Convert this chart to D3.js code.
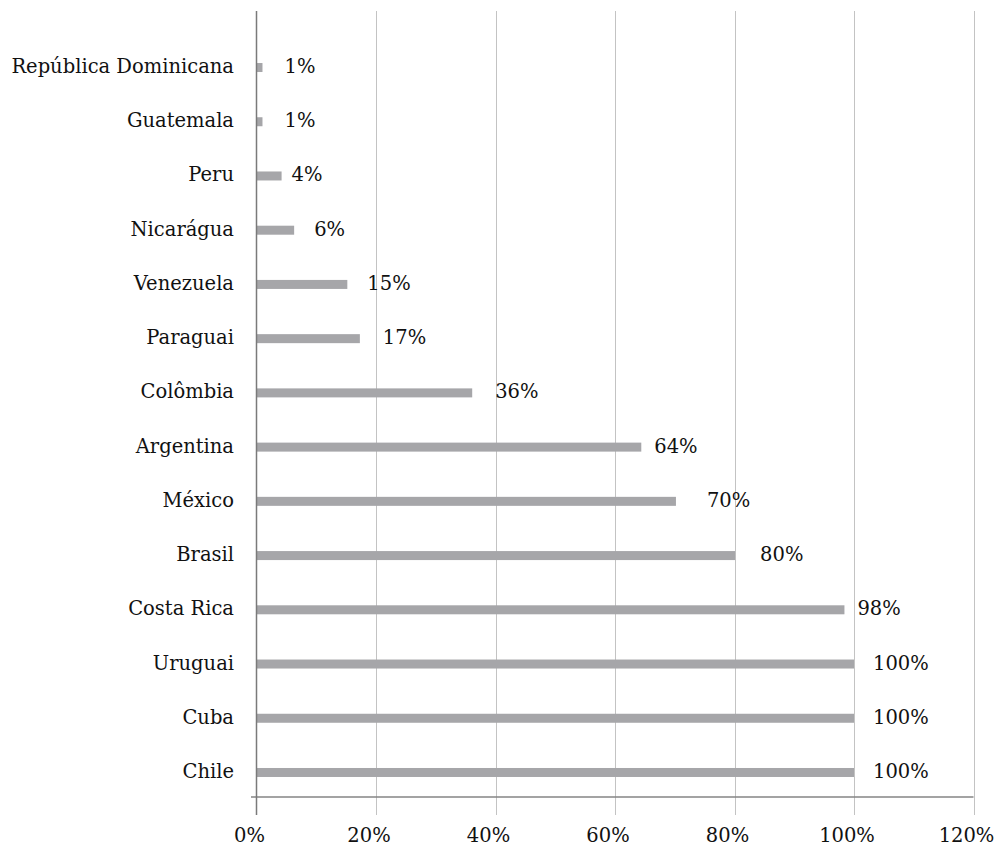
<!DOCTYPE html>
<html>
<head>
<meta charset="utf-8">
<script src="https://cdn.jsdelivr.net/npm/d3@7"></script>
<style>
  html, body { margin: 0; padding: 0; background: #fff; }
  svg { display: block; }
  text { font-family: "DejaVu Serif", "Liberation Serif", serif; fill: #111; }
</style>
</head>
<body>
<svg id="chart" width="995" height="848"></svg>
<script>
// Data (top to bottom as displayed)
const categories = ["República Dominicana", "Guatemala", "Peru", "Nicarágua", "Venezuela", "Paraguai",
  "Colômbia", "Argentina", "México", "Brasil", "Costa Rica", "Uruguai", "Cuba", "Chile"];
const values = [1.0, 1.0, 4.2, 6.3, 15.2, 17.3, 36.1, 64.4, 70.2, 80.1, 98.4, 100, 100, 100];
const xTicks = [0, 20, 40, 60, 80, 100, 120];
// data label nudges (px to the right of bar end), as placed in the original
const labelGap = [22, 22, 10, 20, 20, 23, 23, 13, 31, 25, 13, 19, 19, 19];

(function () {
  const svg = d3.select("#chart");
  const x = d3.scaleLinear().domain([0, 120]).range([256.5, 973.5]);
  const y = d3.scalePoint().domain(categories).range([40.4, 799.6]).padding(0.5);

  const plotTop = 11, axisY = 797, tickBottom = 815;
  const fs = 19.5;
  const fmt = v => d3.format(".0f")(v) + "%";

  // gridlines
  svg.append("g").selectAll("line").data(xTicks.filter(t => t > 0)).join("line")
    .attr("x1", d => Math.round(x(d)) + 0.5).attr("x2", d => Math.round(x(d)) + 0.5)
    .attr("y1", plotTop).attr("y2", tickBottom)
    .attr("stroke", "#c3c3c3").attr("stroke-width", 1);

  // bars
  const barH = 9;
  svg.append("g").selectAll("rect").data(categories).join("rect")
    .attr("x", x(0) + 0.5)
    .attr("y", d => y(d) - barH / 2)
    .attr("width", (d, i) => x(values[i]) - x(0) - 0.5)
    .attr("height", barH)
    .attr("fill", "#a6a6a9");

  // horizontal axis line
  svg.append("line")
    .attr("x1", 251).attr("x2", x(120))
    .attr("y1", axisY).attr("y2", axisY)
    .attr("stroke", "#858585").attr("stroke-width", 1.5);

  // vertical axis line
  svg.append("line")
    .attr("x1", x(0)).attr("x2", x(0))
    .attr("y1", plotTop).attr("y2", tickBottom)
    .attr("stroke", "#7a7a7a").attr("stroke-width", 1.5);

  // x tick labels
  svg.append("g").selectAll("text").data(xTicks).join("text")
    .attr("x", d => x(d) - 7)
    .attr("y", 842)
    .attr("text-anchor", "middle")
    .attr("font-size", fs)
    .text(d => d + "%");

  // category labels
  svg.append("g").selectAll("text").data(categories).join("text")
    .attr("x", 234)
    .attr("y", d => y(d) + 5.5)
    .attr("text-anchor", "end")
    .attr("font-size", fs)
    .text(d => d);

  // data labels
  svg.append("g").selectAll("text").data(categories).join("text")
    .attr("x", (d, i) => x(values[i]) + labelGap[i])
    .attr("y", d => y(d) + 5.5)
    .attr("text-anchor", "start")
    .attr("font-size", fs)
    .text((d, i) => fmt(values[i]));
})();
</script>
</body>
</html>
